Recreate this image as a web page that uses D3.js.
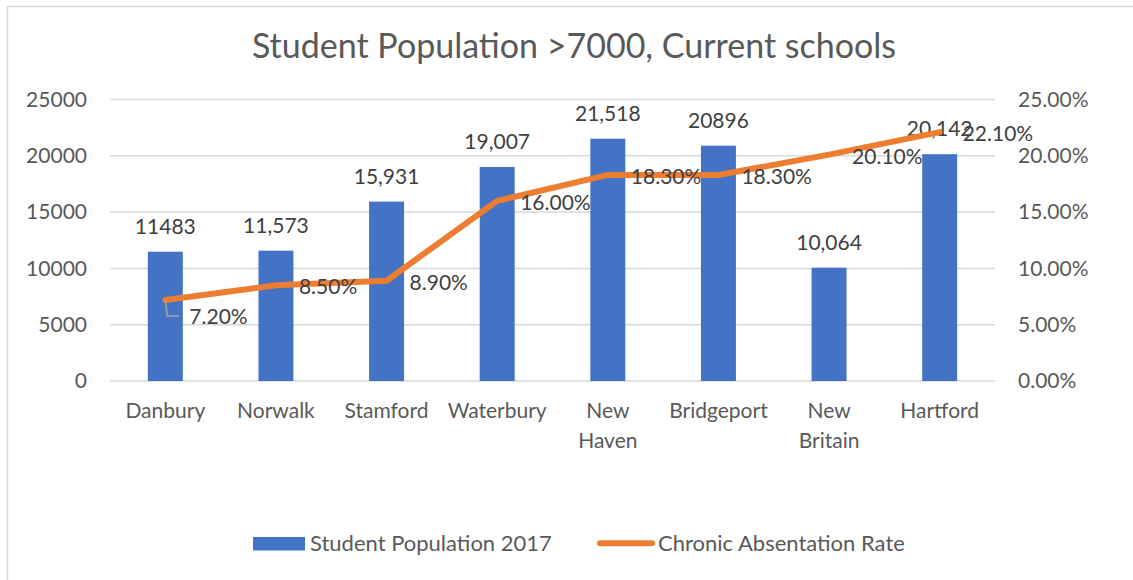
<!DOCTYPE html>
<html>
<head>
<meta charset="utf-8">
<script src="https://cdn.jsdelivr.net/npm/d3@7"></script>
<style>
body{margin:0;background:#fff;}
svg text{font-family:Lato,"Open Sans",sans-serif;}
</style>
</head>
<body>
<svg id="chart" width="1133" height="580"></svg>
<script>
// chart data
var categories=["Danbury","Norwalk","Stamford","Waterbury","New Haven","Bridgeport","New Britain","Hartford"];
var population=[11483,11573,15931,19007,21518,20896,10064,20142];
var populationLabels=["11483","11,573","15,931","19,007","21,518","20896","10,064","20,142"];
var absentRate=[7.2,8.5,8.9,16.0,18.3,18.3,20.1,22.1];
var leftTicks=[0,5000,10000,15000,20000,25000];
var rightTicks=[0,5,10,15,20,25];
var seriesNames=["Student Population 2017","Chronic Absentation Rate"];

function chart(){
    var svg=d3.select("#chart");
    var left=110,right=995,top=99.5,bottom=381;
    var fontSize=21;

    // outer border
    svg.append("rect")
        .attr("x",7.5).attr("y",6.5)
        .attr("width",1140).attr("height",590)
        .attr("fill","none")
        .attr("stroke","#d9d9d9")
        .attr("stroke-width",1.5);

    // title
    svg.append("text")
        .attr("x",574).attr("y",58)
        .attr("text-anchor","middle")
        .attr("font-size","34px")
        .attr("fill","#595959")
        .text("Student Population >7000, Current schools");

    var xScale=d3.scaleBand().domain(categories).range([left,right]).padding(0);
    var yLeft=d3.scaleLinear().domain([0,25000]).range([bottom,top]);
    var yRight=d3.scaleLinear().domain([0,25]).range([bottom,top]);
    var barWidth=xScale.bandwidth()*0.316;
    var cx=function(i){return xScale(categories[i])+xScale.bandwidth()/2;};

    // gridlines
    svg.append("g").selectAll("line")
        .data(leftTicks)
        .enter().append("line")
        .attr("x1",left).attr("x2",right)
        .attr("y1",function(d){return yLeft(d);})
        .attr("y2",function(d){return yLeft(d);})
        .attr("stroke","#d9d9d9")
        .attr("stroke-width",1.5);

    // left axis
    var gl=svg.append("g")
        .attr("transform","translate("+left+",0)")
        .call(d3.axisLeft(yLeft).tickValues(leftTicks).tickSize(0).tickPadding(23).tickFormat(d3.format("d")));
    gl.select(".domain").remove();
    gl.selectAll("text").attr("font-size",fontSize+"px").attr("fill","#595959").attr("font-family",null);

    // right axis
    var gr=svg.append("g")
        .attr("transform","translate("+right+",0)")
        .call(d3.axisRight(yRight).tickValues(rightTicks).tickSize(0).tickPadding(23)
            .tickFormat(function(d){return d.toFixed(2)+"%";}));
    gr.select(".domain").remove();
    gr.selectAll("text").attr("font-size",fontSize+"px").attr("fill","#595959").attr("font-family",null);

    // category axis, wrap two-word names
    var gx=svg.append("g")
        .attr("transform","translate(0,"+bottom+")")
        .call(d3.axisBottom(xScale).tickSize(0).tickPadding(22));
    gx.select(".domain").remove();
    gx.selectAll("text")
        .attr("font-size",fontSize+"px").attr("fill","#595959").attr("font-family",null)
        .each(function(d){
            var words=d.split(" ");
            var t=d3.select(this).text(null);
            words.forEach(function(w,k){
                t.append("tspan").attr("x",0).attr("dy",k==0?null:"1.43em").text(w);
            });
        });

    // bars
    svg.append("g").selectAll("rect")
        .data(population)
        .enter().append("rect")
        .attr("x",function(d,i){return cx(i)-barWidth/2;})
        .attr("y",function(d){return yLeft(d);})
        .attr("width",barWidth)
        .attr("height",function(d){return bottom-yLeft(d);})
        .attr("fill","#4472c4");

    // bar labels
    svg.append("g").selectAll("text")
        .data(population)
        .enter().append("text")
        .attr("x",function(d,i){return cx(i);})
        .attr("y",function(d){return yLeft(d)-18;})
        .attr("text-anchor","middle")
        .attr("font-size",fontSize+"px")
        .attr("fill","#404040")
        .text(function(d,i){return populationLabels[i];});

    // rate line
    var line=d3.line()
        .x(function(d,i){return cx(i);})
        .y(function(d){return yRight(d);});
    svg.append("path")
        .datum(absentRate)
        .attr("d",line)
        .attr("fill","none")
        .attr("stroke","#ed7d31")
        .attr("stroke-width",6)
        .attr("stroke-linejoin","round")
        .attr("stroke-linecap","round");

    // first label is pushed down with a leader line
    var x0=cx(0),y0=yRight(absentRate[0]);
    svg.append("path")
        .attr("d","M"+x0+","+y0+"L"+(x0+2)+","+(y0+16)+"L"+(x0+14)+","+(y0+16))
        .attr("fill","none")
        .attr("stroke","#a6a6a6")
        .attr("stroke-width",1.5);

    svg.append("g").selectAll("text")
        .data(absentRate)
        .enter().append("text")
        .attr("x",function(d,i){return cx(i)+(i==0?24:23);})
        .attr("y",function(d,i){return yRight(d)+(i==0?17:1.5);})
        .attr("dy","0.35em")
        .attr("font-size",fontSize+"px")
        .attr("fill","#404040")
        .text(function(d){return d.toFixed(2)+"%";});

    // legend
    var lg=svg.append("g");
    lg.append("rect")
        .attr("x",253).attr("y",537)
        .attr("width",52).attr("height",13.5)
        .attr("fill","#4472c4");
    lg.append("text")
        .attr("x",310).attr("y",543)
        .attr("dy","0.35em")
        .attr("font-size","22px")
        .attr("fill","#595959")
        .text(seriesNames[0]);
    lg.append("line")
        .attr("x1",600).attr("x2",652)
        .attr("y1",543.3).attr("y2",543.3)
        .attr("stroke","#ed7d31")
        .attr("stroke-width",6)
        .attr("stroke-linecap","round");
    lg.append("text")
        .attr("x",658).attr("y",543)
        .attr("dy","0.35em")
        .attr("font-size","22px")
        .attr("fill","#595959")
        .text(seriesNames[1]);
}
chart();
</script>
</body>
</html>
